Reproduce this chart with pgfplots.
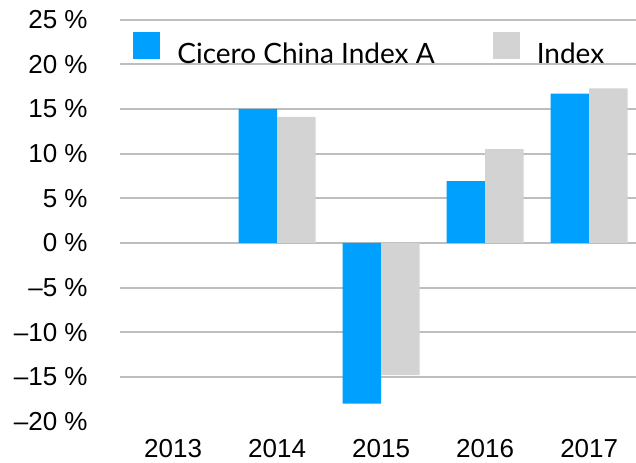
\documentclass[border=0pt]{standalone}
\usepackage{fontspec}
\setmainfont{Liberation Sans}
\newfontfamily\legfont{Lato}
\usepackage{pgfplots}
\pgfplotsset{compat=1.18}
\definecolor{cblue}{RGB}{0,160,254}
\definecolor{cgray}{RGB}{211,211,211}
\definecolor{cgrid}{RGB}{190,190,190}
\begin{document}
\begin{tikzpicture}
\useasboundingbox (-60pt,-20.5pt) rectangle (258pt,210.75pt);
\begin{axis}[
  scale only axis, width=258pt, height=201pt,
  xmin=-0.51, xmax=4.45, ymin=-20, ymax=25,
  axis line style={draw=none}, tick style={draw=none},
  major tick length=0pt,
  ybar=0pt, bar width=0.37,
  xtick={0,1,2,3,4}, xticklabels={2013,2014,2015,2016,2017},
  ytick={-15,-10,-5,0,5,10,15,20,25},
  yticklabels={–15~\%,–10~\%,–5~\%,0~\%,5~\%,10~\%,15~\%,20~\%,25~\%},
  extra y ticks={-20}, extra y tick labels={–20~\%},
  extra y tick style={grid=none},
  ymajorgrids, grid style={cgrid, line width=1pt},
  ticklabel style={font=\fontsize{13}{15}\selectfont},
  yticklabel style={inner sep=0pt, anchor=east, xshift=-16pt},
  xticklabel style={inner sep=0pt, anchor=north, yshift=-8.5pt},
  legend columns=2,
  legend image code/.code={\path[#1] (0pt,-2.5pt) rectangle (13.5pt,11pt);},
  legend style={at={(rel axis cs:0.0252,0.9689)}, anchor=north west,
    draw=none, fill=none, inner sep=0pt,
    font=\legfont\fontsize{14}{16}\selectfont,
    nodes={inner sep=0pt},
    /tikz/every odd column/.append style={column sep=8.5pt},
    /tikz/every even column/.append style={column sep=29pt}},
]
\addplot[fill=cblue, draw=none] coordinates {(1,15.0) (2,-18.0) (3,6.9) (4,16.7)};
\addlegendentry{Cicero China Index A}
\addplot[fill=cgray, draw=none] coordinates {(1,14.1) (2,-14.8) (3,10.5) (4,17.3)};
\addlegendentry{Index}
\end{axis}
\end{tikzpicture}
\end{document}
